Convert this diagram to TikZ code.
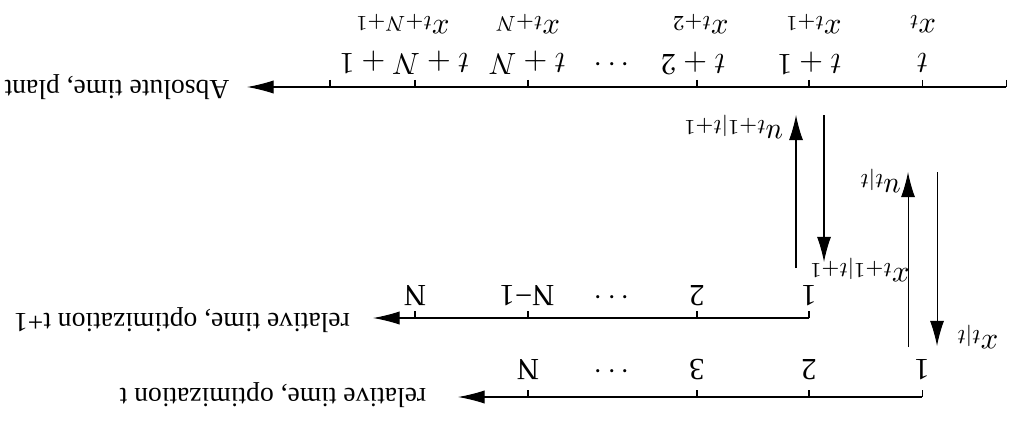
\RequirePackage{fix-cm}
\documentclass[tikz,border=0pt]{standalone}
\usepackage{fontspec}
\setmainfont{Liberation Serif}
\usetikzlibrary{arrows.meta}

\begin{document}
\begin{tikzpicture}[x=0.0135cm,y=-0.0135cm,
  every node/.style={rotate=180,inner sep=1pt,font=\fontsize{11.8}{14}\selectfont},
  axis/.style={-{Latex[length=3.6mm,width=1.8mm]}},
  flow/.style={-{Latex[length=3.4mm,width=1.9mm]}},
  axisname/.style={font=\fontsize{10.6}{12}\selectfont}]
\useasboundingbox (0,0) rectangle (1012,421);
% absolute time axis
\coordinate (abs0) at (1006,87); \coordinate (abs1) at (247,87);
\draw[axis] (abs0) -- (abs1);
\foreach \x in {330,415,528,697,809,922,1006} \draw (\x,80) -- (\x,87);
\node[axisname] (absname) at (117,87) {Absolute time, plant};
\node (ta) at (922,63) {$t$};
\node (tb) at (809,63) {$t+1$};
\node (tc) at (693,63) {$t+2$};
\node (td) at (612,63) {$\cdots$};
\node (te) at (527,63) {$t+N$};
\node (tf) at (404,63) {$t+N+1$};
\node (xa) at (922,24) {$x_t$};
\node (xb) at (813,24) {$x_{t+1}$};
\node (xc) at (700,24) {$x_{t+2}$};
\node (xe) at (527,24) {$x_{t+N}$};
\node (xf) at (402,24) {$x_{t+N+1}$};
% optimization t+1
\coordinate (mid0) at (809,318); \coordinate (mid1) at (373,318);
\draw[axis] (mid0) -- (mid1);
\foreach \x in {415,528,697,809} \draw (\x,311) -- (\x,318);
\node[axisname] (midname) at (182,320) {relative time, optimization t+1};
\node (ma) at (809,296) {1};
\node (mb) at (697,296) {2};
\node (mc) at (612,296) {$\cdots$};
\node (md) at (527,296) {N−1};
\node (me) at (415,296) {N};
% optimization t
\coordinate (low0) at (922,397); \coordinate (low1) at (458,397);
\draw[axis] (low0) -- (low1);
\foreach \x in {528,697,809,922} \draw (\x,390) -- (\x,397);
\node[axisname] (lowname) at (273,395) {relative time, optimization t};
\node (la) at (922,370) {1};
\node (lb) at (809,370) {2};
\node (lc) at (697,370) {3};
\node (ld) at (612,370) {$\cdots$};
\node (le) at (528,370) {N};
% exchange between plant and optimizations
\coordinate (xtt0) at (937,172); \coordinate (xtt1) at (937,346);
\coordinate (utt0) at (908,347); \coordinate (utt1) at (908,172);
\coordinate (xs0) at (824,115); \coordinate (xs1) at (824,262);
\coordinate (us0) at (796,268); \coordinate (us1) at (796,115);
\draw[flow] (xtt0) -- (xtt1);
\draw[flow] (utt0) -- (utt1);
\draw[flow] (xs0) -- (xs1);
\draw[flow] (us0) -- (us1);
\node (xttl) at (977,337) {$x_{t|t}$};
\node (uttl) at (880,181) {$u_{t|t}$};
\node (xsl) at (859,270) {$x_{t+1|t+1}$};
\node (usl) at (733,127) {$u_{t+1|t+1}$};
\end{tikzpicture}
\end{document}
